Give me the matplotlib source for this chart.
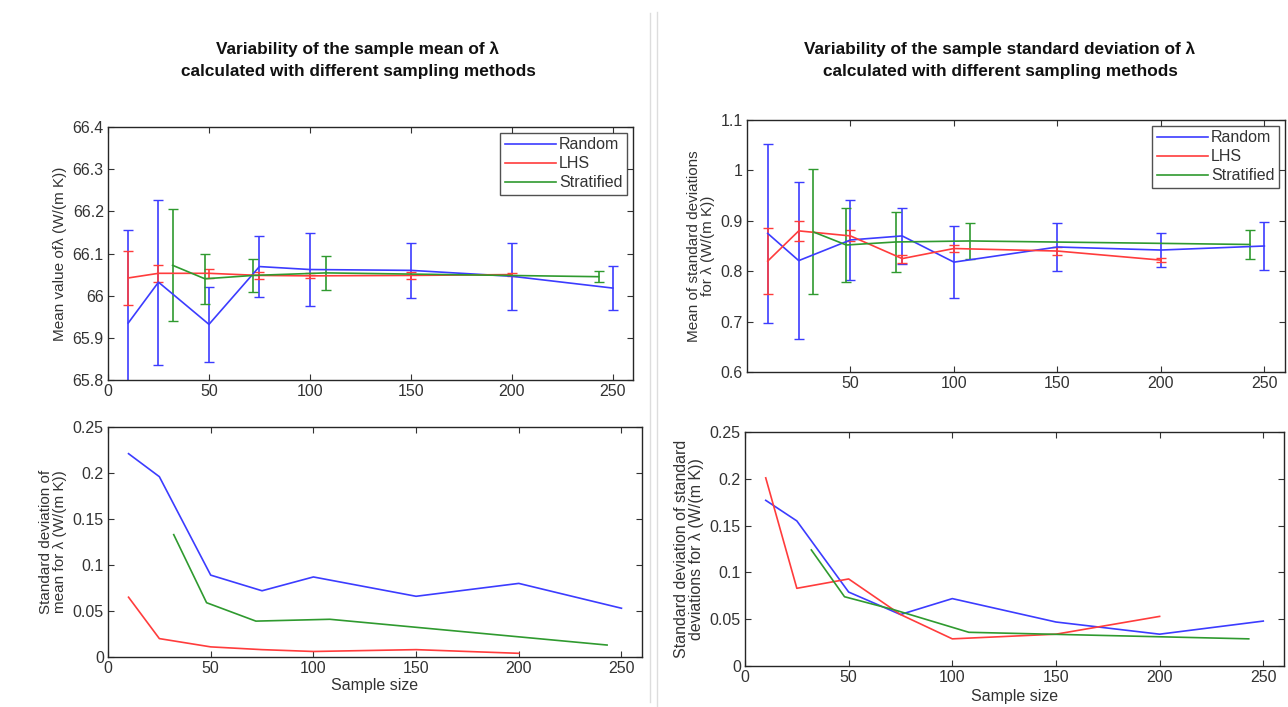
import numpy as np
import matplotlib
matplotlib.use('Agg')
import matplotlib.pyplot as plt
from matplotlib.lines import Line2D
from matplotlib.ticker import FormatStrFormatter

plt.rcParams['font.family'] = ['Liberation Sans', 'DejaVu Sans']

# sample sizes
n_rand = [10, 25, 50, 75, 100, 150, 200, 250]
n_lhs = [10, 25, 50, 75, 100, 150, 200]
n_strat = [32, 48, 72, 108, 243]

# sample mean of lambda
mean_rand = [65.935, 66.032, 65.932, 66.069, 66.062, 66.060, 66.046, 66.018]
mean_lhs = [66.042, 66.053, 66.053, 66.048, 66.047, 66.048, 66.050]
mean_strat = [66.072, 66.040, 66.048, 66.054, 66.045]

# std of the sample mean
sdm_rand = [0.221, 0.196, 0.089, 0.072, 0.087, 0.066, 0.080, 0.053]
sdm_lhs = [0.065, 0.020, 0.011, 0.008, 0.006, 0.008, 0.004]
sdm_strat = [0.133, 0.059, 0.039, 0.041, 0.013]

# mean of sample standard deviations
msd_rand = [0.875, 0.821, 0.862, 0.870, 0.818, 0.848, 0.842, 0.850]
msd_lhs = [0.820, 0.880, 0.870, 0.825, 0.845, 0.840, 0.822]
msd_strat = [0.878, 0.852, 0.858, 0.860, 0.853]

# std of sample standard deviations
sds_rand = [0.177, 0.155, 0.079, 0.055, 0.072, 0.047, 0.034, 0.048]
sds_lhs = [0.201, 0.083, 0.093, 0.055, 0.029, 0.034, 0.053]
sds_strat = [0.124, 0.074, 0.060, 0.036, 0.029]

labels = ['Random', 'LHS', 'Stratified']
colors = ['#3c3cff', '#ff3c3c', '#2f9a2f']

fig = plt.figure(figsize=(12.88, 7.07), dpi=100)

tick_col = '#333333'


def style(ax, ylim, yticks, xticks=(0, 50, 100, 150, 200, 250)):
    ax.set_xlim(0, 260)
    ax.set_ylim(*ylim)
    ax.set_yticks(yticks)
    ax.set_xticks(xticks)
    ax.yaxis.set_major_formatter(FormatStrFormatter('%g'))
    ax.tick_params(direction='in', top=True, right=True, length=4,
                   labelsize=11.5, colors=tick_col, pad=3)
    for s in ax.spines.values():
        s.set_color('#262626')
        s.set_linewidth(1.0)


def fpos(x0, x1, y0, y1):
    W, H = 1288, 707
    return [x0 / W, 1 - y1 / H, (x1 - x0) / W, (y1 - y0) / H]


def add_legend(ax):
    h = [Line2D([], [], color=c, lw=1.2) for c in colors]
    leg = ax.legend(h, labels, loc='upper right', fontsize=11.5, frameon=True, fancybox=False,
                    edgecolor='#262626', handlelength=3.2, handletextpad=0.2,
                    borderaxespad=0.35, borderpad=0.3, labelspacing=0.25)
    leg.get_frame().set_linewidth(1.0)
    for t in leg.get_texts():
        t.set_color(tick_col)


# top left: mean of lambda
ax1 = fig.add_axes(fpos(108, 633, 127, 380))
ax1.errorbar(n_rand, mean_rand, yerr=sdm_rand, color=colors[0], lw=1.2, capsize=3.6)
ax1.errorbar(n_lhs, mean_lhs, yerr=sdm_lhs, color=colors[1], lw=1.2, capsize=3.6)
ax1.errorbar(n_strat, mean_strat, yerr=sdm_strat, color=colors[2], lw=1.2, capsize=3.6)
style(ax1, (65.8, 66.4), np.arange(65.8, 66.41, 0.1))
ax1.set_ylabel('Mean value of\u03bb (W/(m K))', fontsize=11, color=tick_col)
add_legend(ax1)

# bottom left: std of mean
ax2 = fig.add_axes(fpos(108, 642, 427, 657))
ax2.plot(n_rand, sdm_rand, color=colors[0], lw=1.2)
ax2.plot(n_lhs, sdm_lhs, color=colors[1], lw=1.2)
ax2.plot(n_strat, sdm_strat, color=colors[2], lw=1.2)
style(ax2, (0, 0.25), np.arange(0, 0.251, 0.05))
ax2.set_ylabel('Standard deviation of\nmean for \u03bb (W/(m K))', fontsize=11, color=tick_col,
               linespacing=1.0)
ax2.set_xlabel('Sample size', fontsize=11.5, color=tick_col, labelpad=1)

# top right: mean of std (LHS bars as in the original figure)
ax3 = fig.add_axes(fpos(747, 1285, 120, 372))
ax3.errorbar(n_rand, msd_rand, yerr=sds_rand, color=colors[0], lw=1.2, capsize=3.6)
ax3.errorbar(n_lhs, msd_lhs, yerr=sdm_lhs, color=colors[1], lw=1.2, capsize=3.6)
ax3.errorbar(n_strat, msd_strat, yerr=sds_strat, color=colors[2], lw=1.2, capsize=3.6)
style(ax3, (0.6, 1.1), np.arange(0.6, 1.101, 0.1), xticks=(50, 100, 150, 200, 250))
ax3.set_ylabel('Mean of standard deviations\nfor \u03bb (W/(m K))', fontsize=11, color=tick_col,
               linespacing=1.0)
add_legend(ax3)

# bottom right: std of std
ax4 = fig.add_axes(fpos(745, 1284, 432, 666))
ax4.plot(n_rand, sds_rand, color=colors[0], lw=1.2)
ax4.plot(n_lhs, sds_lhs, color=colors[1], lw=1.2)
ax4.plot(n_strat, sds_strat, color=colors[2], lw=1.2)
style(ax4, (0, 0.25), np.arange(0, 0.251, 0.05))
ax4.set_ylabel('Standard deviation of standard\ndeviations for \u03bb (W/(m K))', fontsize=11.5,
               color=tick_col, linespacing=1.0)
ax4.set_xlabel('Sample size', fontsize=11.5, color=tick_col, labelpad=3)

# titles
fig.text(358 / 1288, 1 - 60 / 707,
         'Variability of the sample mean of \u03bb\ncalculated with different sampling methods',
         ha='center', va='center', fontsize=12.4, fontweight='bold', color='#111111', linespacing=1.6)
fig.text(1000 / 1288, 1 - 60 / 707,
         'Variability of the sample standard deviation of \u03bb\ncalculated with different sampling methods',
         ha='center', va='center', fontsize=12.4, fontweight='bold', color='#111111', linespacing=1.6)

# faint panel borders
fig.add_artist(Line2D([649.5 / 1288] * 2, [1 - 13 / 707, 1 - 702 / 707], color='#dddddd', lw=1))
fig.add_artist(Line2D([657 / 1288] * 2, [1 - 12 / 707, 0], color='#dddddd', lw=1))

fig.savefig('out.png', dpi=100)
